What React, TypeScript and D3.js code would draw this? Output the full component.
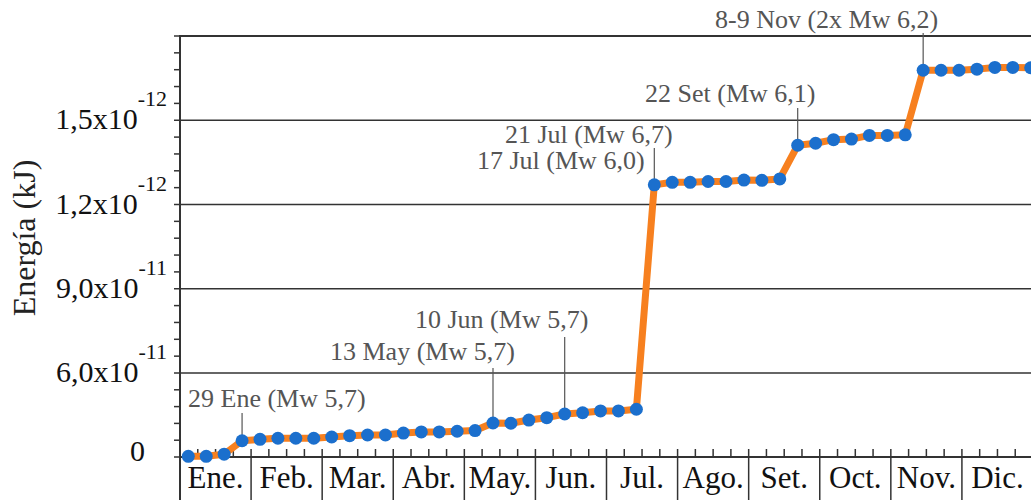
import React from 'react';
import * as d3 from 'd3';

// energy per quarter-month, in units of 1e-13 kJ
const energy = [
  0.05, 0.05, 0.2, 1.16, 1.26, 1.34, 1.34, 1.34, 1.43, 1.52, 1.57, 1.57,
  1.71, 1.79, 1.79, 1.84, 1.89, 2.43, 2.41, 2.64, 2.81, 3.07, 3.16, 3.29,
  3.29, 3.41, 12.7, 12.79, 12.79, 12.82, 12.82, 12.87, 12.86, 12.91,
  14.11, 14.18, 14.31, 14.33, 14.46, 14.46, 14.48,
  16.78, 16.78, 16.78, 16.82, 16.88, 16.88, 16.87,
];

const months = ['Ene.', 'Feb.', 'Mar.', 'Abr.', 'May.', 'Jun.', 'Jul.', 'Ago.', 'Set.', 'Oct.', 'Nov.', 'Dic.'];

const yTickValues = [0, 6, 9, 12, 15];
const yTickMain = ['0', '6,0x10', '9,0x10', '1,2x10', '1,5x10'];
const yTickExp = ['', '-11', '-11', '-12', '-12'];

// which point each event label points at
const eventIndex = [3, 17, 21, 26, 34, 41];
const eventText = [
  ['29 Ene (Mw 5,7)'],
  ['13 May (Mw 5,7)'],
  ['10 Jun (Mw 5,7)'],
  ['21 Jul (Mw 6,7)', '17 Jul (Mw 6,0)'],
  ['22 Set (Mw 6,1)'],
  ['8-9 Nov (2x Mw 6,2)'],
];
// label placement: text x per line, first baseline, top of the leader line
const eventPos = [
  { x: [188], y: 407, top: 413 },
  { x: [330], y: 360, top: 368 },
  { x: [415], y: 328, top: 337 },
  { x: [505, 477], y: 143, top: 148 },
  { x: [645], y: 102, top: 108 },
  { x: [715], y: 28, top: 33 },
];

const W = 1031;
const H = 500;
const left = 180;
const right = 1033;
const top = 36;
const bottom = 457;

const serif = '"Liberation Serif", "Times New Roman", serif';
const gridColor = '#333';
const noteColor = '#555';

export default function App() {
  // axis runs in quarter-months, points sit a bit off the quarter grid like in the original
  const xq = d3.scaleLinear().domain([0, 48]).range([left, right]);
  const xp = d3.scaleLinear().domain([0, energy.length - 1]).range([188.3, 1030.7]);
  const y = d3.scaleLinear().domain([0, 6, 18]).range([bottom, 373, top]);

  const minor = d3.range(0, 6, 1.2).concat(d3.range(6, 18.01, 0.6));
  const quarters = d3.range(0, 49);

  const line = d3.line<number>()
    .x((d, i) => xp(i))
    .y(d => y(d));

  return (
    <svg width={W} height={H} style={{ position: 'absolute', left: 0, top: 0, background: '#fff' }}
      fontFamily={serif}>
      {/* gridlines and frame */}
      {yTickValues.slice(1).map(v => (
        <line key={v} x1={left} x2={W} y1={y(v)} y2={y(v)} stroke={gridColor} strokeWidth={1.5} />
      ))}
      <line x1={left} x2={W} y1={y(18)} y2={y(18)} stroke={gridColor} strokeWidth={2} />
      <line x1={left} x2={W} y1={bottom} y2={bottom} stroke={gridColor} strokeWidth={2} />
      <line x1={left} x2={left} y1={top - 1} y2={H} stroke={gridColor} strokeWidth={2} />

      {/* y minor ticks */}
      {minor.map(v => (
        <line key={'m' + v} x1={left - 6} x2={left} y1={y(v)} y2={y(v)} stroke={gridColor} strokeWidth={1.5} />
      ))}

      {/* y tick labels */}
      {yTickValues.map((v, i) => (
        i === 0
          ? <text key={'t' + v} x={145} y={y(v) + 4} fontSize={30} textAnchor="end" fill="#111">{yTickMain[i]}</text>
          : <text key={'t' + v} x={167} y={y(v) + 9} fontSize={30} textAnchor="end" fill="#111">
              <tspan>{yTickMain[i]}</tspan>
              <tspan dy={-23} fontSize={22}>{yTickExp[i]}</tspan>
            </text>
      ))}

      {/* y title */}
      <text transform={`translate(35,${238}) rotate(-90)`} textAnchor="middle" fontSize={32} fill="#222">
        Energía (kJ)
      </text>

      {/* x quarter ticks and month boxes */}
      {quarters.map(q => (
        <line key={'q' + q} x1={xq(q)} x2={xq(q)} y1={bottom - 8} y2={bottom} stroke={gridColor} strokeWidth={1.5} />
      ))}
      {d3.range(1, 13).map(m => (
        <line key={'mb' + m} x1={xq(m * 4)} x2={xq(m * 4)} y1={bottom} y2={H} stroke={gridColor} strokeWidth={1.5} />
      ))}
      {months.map((m, i) => (
        <text key={m} x={xq(i * 4 + 2)} y={488} fontSize={31} textAnchor="middle" fill="#111">{m}</text>
      ))}

      {/* event labels */}
      {eventIndex.map((idx, k) => {
        const p = eventPos[k];
        return (
          <g key={'e' + k}>
            <line x1={xp(idx)} x2={xp(idx)} y1={p.top} y2={y(energy[idx])} stroke={noteColor} strokeWidth={1.2} />
            {eventText[k].map((t, j) => (
              <text key={t} x={p.x[j]} y={p.y + j * 26} fontSize={26} fill={noteColor}>{t}</text>
            ))}
          </g>
        );
      })}

      {/* series */}
      <path d={line(energy) || ''} fill="none" stroke="#f7801f" strokeWidth={7} strokeLinejoin="round" />
      {energy.map((v, i) => (
        <circle key={'p' + i} cx={xp(i)} cy={y(v)} r={6.5} fill="#1b6fcd" />
      ))}
    </svg>
  );
}
